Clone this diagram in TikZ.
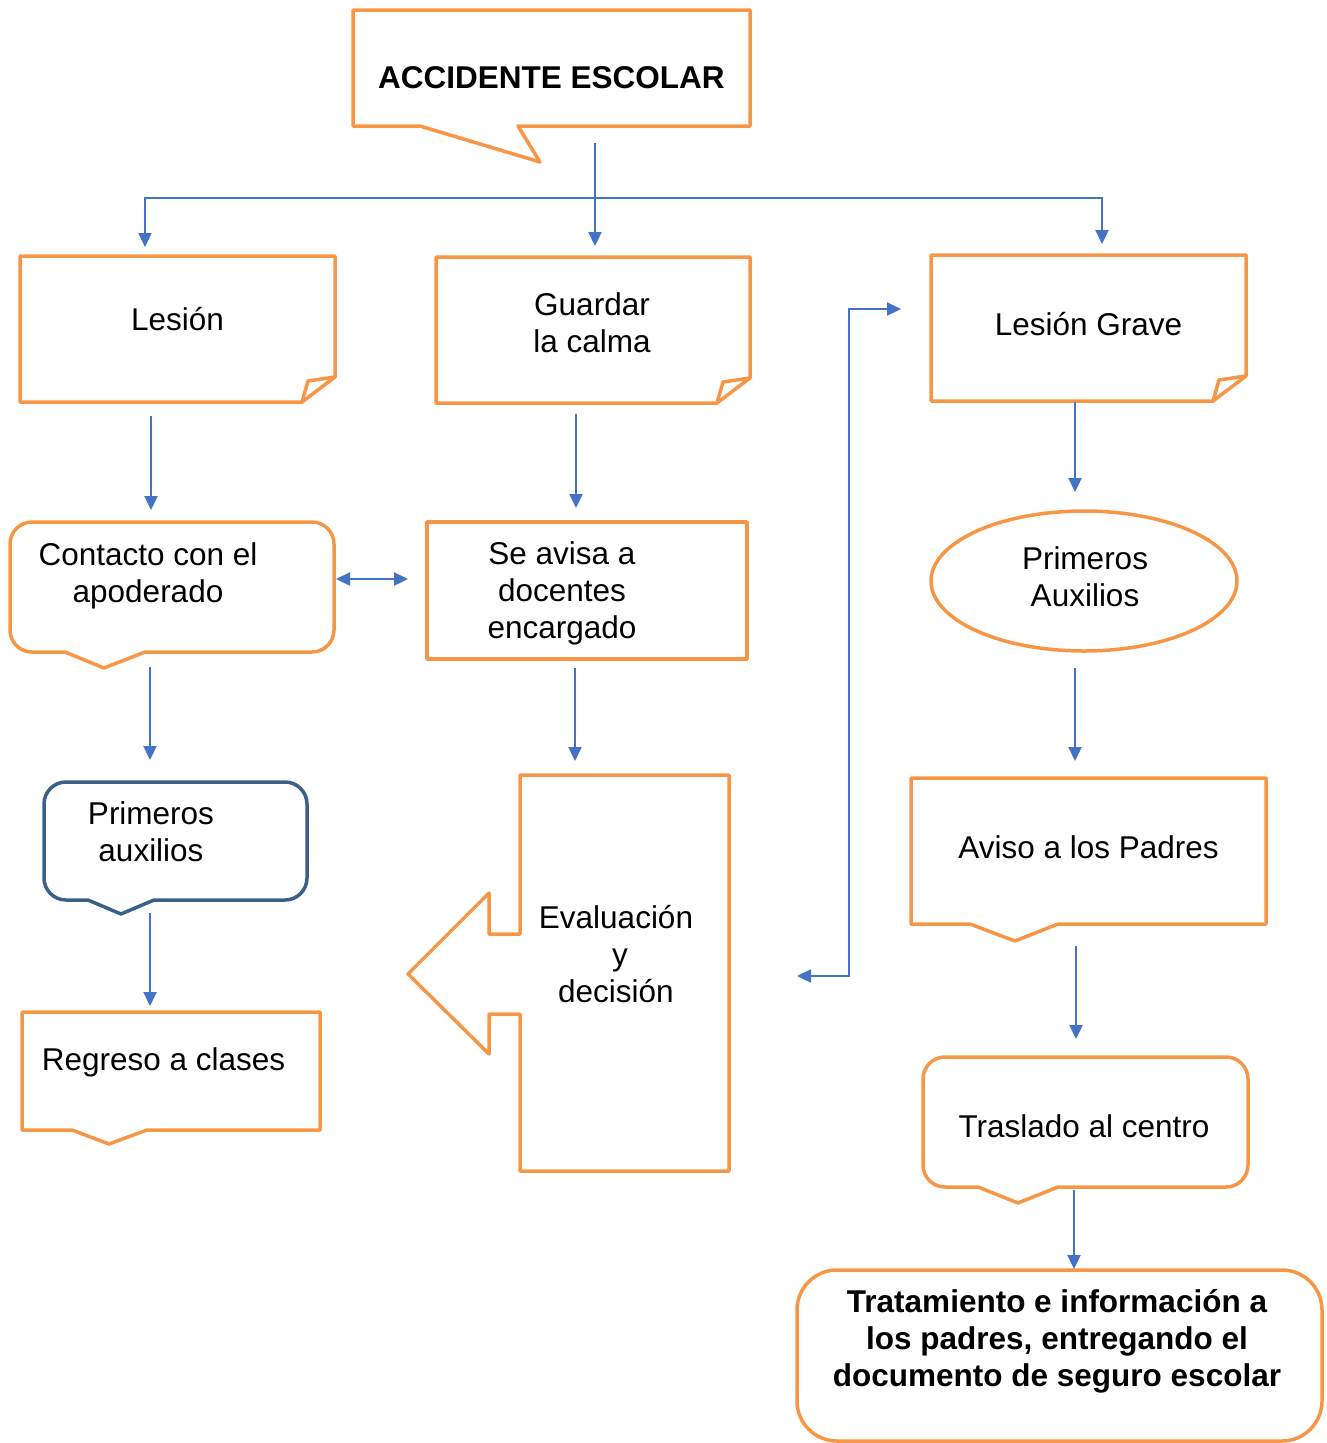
\documentclass[tikz,border=0pt]{standalone}
\usepackage{fontspec}
\setmainfont{Liberation Sans}
\usetikzlibrary{shapes.geometric, arrows.meta, calc}
\definecolor{accent}{HTML}{F79646}
\definecolor{arrowblue}{HTML}{4472C4}
\definecolor{navy}{HTML}{3A5F8B}
\tikzstyle{frame} = [inner sep=0pt, outer sep=0pt]
\tikzstyle{edge} = [draw=accent, line width=3.5pt, line join=round]
\tikzstyle{txt} = [align=center, inner sep=0pt, font=\fontsize{31.5}{37}\selectfont]
\tikzstyle{boldtxt} = [txt, font=\fontsize{31.5}{37}\selectfont\bfseries]
\tikzstyle{arrow} = [draw=arrowblue, line width=2.3pt, -{Triangle[length=14pt,width=13pt]}]
\tikzstyle{dblarrow} = [draw=arrowblue, line width=2.3pt, {Triangle[length=14pt,width=13pt]}-{Triangle[length=14pt,width=13pt]}]

% note with folded corner
\newcommand{\foldbox}[1]{%
  \draw[edge] (#1.north west) -- (#1.north east) -- ([yshift=25pt]#1.south east) -- ([xshift=-33pt]#1.south east) -- (#1.south west) -- cycle;
  \draw[edge] ([xshift=-33pt]#1.south east) -- ++(6,21) -- ([yshift=25pt]#1.south east);}
% box with a pointer below: node, left, tip, right, depth
\newcommand{\pointbox}[5]{%
  \draw[edge] (#1.south west) -- (#1.north west) -- (#1.north east) -- (#1.south east) -- ([xshift=#4pt]#1.south west) -- ([xshift=#3pt,yshift=-#5pt]#1.south west) -- ([xshift=#2pt]#1.south west) -- cycle;}
% rounded box with a pointer below: style, node, left, tip, right, depth
\newcommand{\roundpoint}[6]{%
  \draw[#1] ([xshift=#3pt]#2.south west) -- ([xshift=22pt]#2.south west)
    arc[start angle=270, end angle=180, radius=22pt] -- ([yshift=-22pt]#2.north west)
    arc[start angle=180, end angle=90, radius=22pt] -- ([xshift=-22pt]#2.north east)
    arc[start angle=90, end angle=0, radius=22pt] -- ([yshift=22pt]#2.south east)
    arc[start angle=0, end angle=-90, radius=22pt] -- ([xshift=#5pt]#2.south west)
    -- ([xshift=#4pt,yshift=-#6pt]#2.south west) -- cycle;}

\begin{document}
\begin{tikzpicture}[x=1pt, y=1pt, font=\fontsize{31.5}{37}\selectfont]
    \useasboundingbox (0,0) rectangle (1327,-1443);

    % frames
    \node[frame, minimum width=397pt, minimum height=116pt] (top) at (551.5,-68) {};
    \node[frame, minimum width=315pt, minimum height=146pt] (lesion) at (177.5,-329) {};
    \node[frame, minimum width=314pt, minimum height=146pt] (guardar) at (593,-330) {};
    \node[frame, minimum width=315pt, minimum height=146pt] (grave) at (1088.5,-328) {};
    \node[frame, minimum width=324pt, minimum height=130pt] (contacto) at (172,-587) {};
    \node[frame, edge, minimum width=320pt, minimum height=137pt] (avisa) at (587,-590.5) {};
    \node[frame, minimum width=263pt, minimum height=118pt] (primeros) at (175.5,-841) {};
    \node[frame, minimum width=298pt, minimum height=118pt] (regreso) at (171,-1071) {};
    \node[frame, minimum width=209pt, minimum height=396pt] (evaluacion) at (624.5,-973) {};
    \node[frame, edge, ellipse, minimum width=306pt, minimum height=140pt] (auxilios) at (1084,-581) {};
    \node[frame, minimum width=355pt, minimum height=146pt] (aviso) at (1088.5,-851) {};
    \node[frame, minimum width=325pt, minimum height=130pt] (traslado) at (1085.5,-1122) {};
    \node[frame, edge, rounded corners=40pt, minimum width=525pt, minimum height=171pt] (tratamiento) at (1059.5,-1355.5) {};

    % outlines
    \draw[edge] (top.south west) -- (top.north west) -- (top.north east) -- (top.south east) -- ([xshift=165pt]top.south west) -- ([xshift=187pt,yshift=-36pt]top.south west) -- ([xshift=67pt]top.south west) -- cycle;
    \foldbox{lesion}
    \foldbox{guardar}
    \foldbox{grave}
    \roundpoint{edge}{contacto}{55}{94}{135}{16}
    \roundpoint{edge, draw=navy}{primeros}{44}{77}{110}{14}
    \roundpoint{edge}{traslado}{55}{95}{135}{16}
    \pointbox{regreso}{50}{87}{125}{14}
    \pointbox{aviso}{59}{104}{147}{17}
    \draw[edge] (evaluacion.north west) -- (evaluacion.north east) -- (evaluacion.south east) -- (evaluacion.south west) -- ([yshift=157pt]evaluacion.south west) -- ++(-31,0) -- ++(0,-40) -- ++(-81,80) -- ++(81,81) -- ++(0,-41) -- ++(31,0) -- cycle;

    % texts
    \node[boldtxt] (top-t) at ([shift={(0,-10)}]top.center) {ACCIDENTE ESCOLAR};
    \node[txt] (lesion-t) at ([shift={(0,10)}]lesion.center) {Lesión};
    \node[txt] (guardar-t) at ([shift={(-1,7)}]guardar.center) {Guardar\\la calma};
    \node[txt] (grave-t) at ([shift={(0,4)}]grave.center) {Lesión Grave};
    \node[txt] (contacto-t) at ([shift={(-24,11)}]contacto.center) {Contacto con el\\apoderado};
    \node[txt] (avisa-t) at ([shift={(-25,-3)}]avisa.center) {Se avisa a\\docentes\\encargado};
    \node[txt] (primeros-t) at ([shift={(-24.5,9)}]primeros.center) {Primeros\\auxilios};
    \node[txt] (regreso-t) at ([shift={(-7.5,9)}]regreso.center) {Regreso a clases};
    \node[txt] (evaluacion-t) at ([shift={(-8.5,19)}]evaluacion.center) {Evaluación\\\hspace{8pt}y\\decisión};
    \node[txt] (auxilios-t) at ([shift={(1,4)}]auxilios.center) {Primeros\\Auxilios};
    \node[txt] (aviso-t) at ([shift={(0,4)}]aviso.center) {Aviso a los Padres};
    \node[txt] (traslado-t) at ([shift={(-1.5,-4)}]traslado.center) {Traslado al centro};
    \node[boldtxt] (tratamiento-t) at ([shift={(-2.5,14.5)}]tratamiento.center) {Tratamiento e información a\\los padres, entregando el\\documento de seguro escolar};

    % connectors
    \draw[arrow] ([xshift=43.5pt,yshift=-17pt]top.south) -- ([xshift=2pt,yshift=11pt]guardar.north);
    \draw[arrow] ([xshift=43.5pt,yshift=-72pt]top.south) -| ([xshift=-32.5pt,yshift=9pt]lesion.north);
    \draw[arrow] ([xshift=43.5pt,yshift=-72pt]top.south) -| ([xshift=13.5pt,yshift=11pt]grave.north);
    \draw[arrow] ([xshift=-26.5pt,yshift=-14pt]lesion.south) -- ([xshift=-21pt,yshift=12pt]contacto.north);
    \draw[arrow] ([xshift=-17pt,yshift=-11pt]guardar.south) -- ([xshift=-11pt,yshift=14pt]avisa.north);
    \draw[arrow] ([xshift=-13.5pt,yshift=-1pt]grave.south) -- ([xshift=-9pt,yshift=19pt]auxilios.north);
    \draw[dblarrow] ([xshift=2pt,yshift=8pt]contacto.east) -- ([xshift=-19pt,yshift=11.5pt]avisa.west);
    \draw[arrow] ([xshift=-22pt,yshift=-15pt]contacto.south) -- ([xshift=-25.5pt,yshift=22pt]primeros.north);
    \draw[arrow] ([xshift=-12pt,yshift=-9pt]avisa.south) -- ([xshift=-49.5pt,yshift=14pt]evaluacion.north);
    \draw[arrow] ([xshift=-25.5pt,yshift=-13pt]primeros.south) -- ([xshift=-21pt,yshift=6pt]regreso.north);
    \draw[arrow] ([xshift=-9pt,yshift=-17pt]auxilios.south) -- ([xshift=-13.5pt,yshift=17pt]aviso.north);
    \draw[arrow] ([xshift=-12.5pt,yshift=-22pt]aviso.south) -- ([xshift=-9.5pt,yshift=18pt]traslado.north);
    \draw[arrow] ([xshift=-11.5pt,yshift=-3pt]traslado.south) -- ([xshift=14.5pt,yshift=1pt]tratamiento.north);
    \draw[dblarrow] ([xshift=68pt,yshift=-3pt]evaluacion.east) -- ++(52,0) |- ([xshift=-30pt,yshift=19pt]grave.west);
\end{tikzpicture}
\end{document}
